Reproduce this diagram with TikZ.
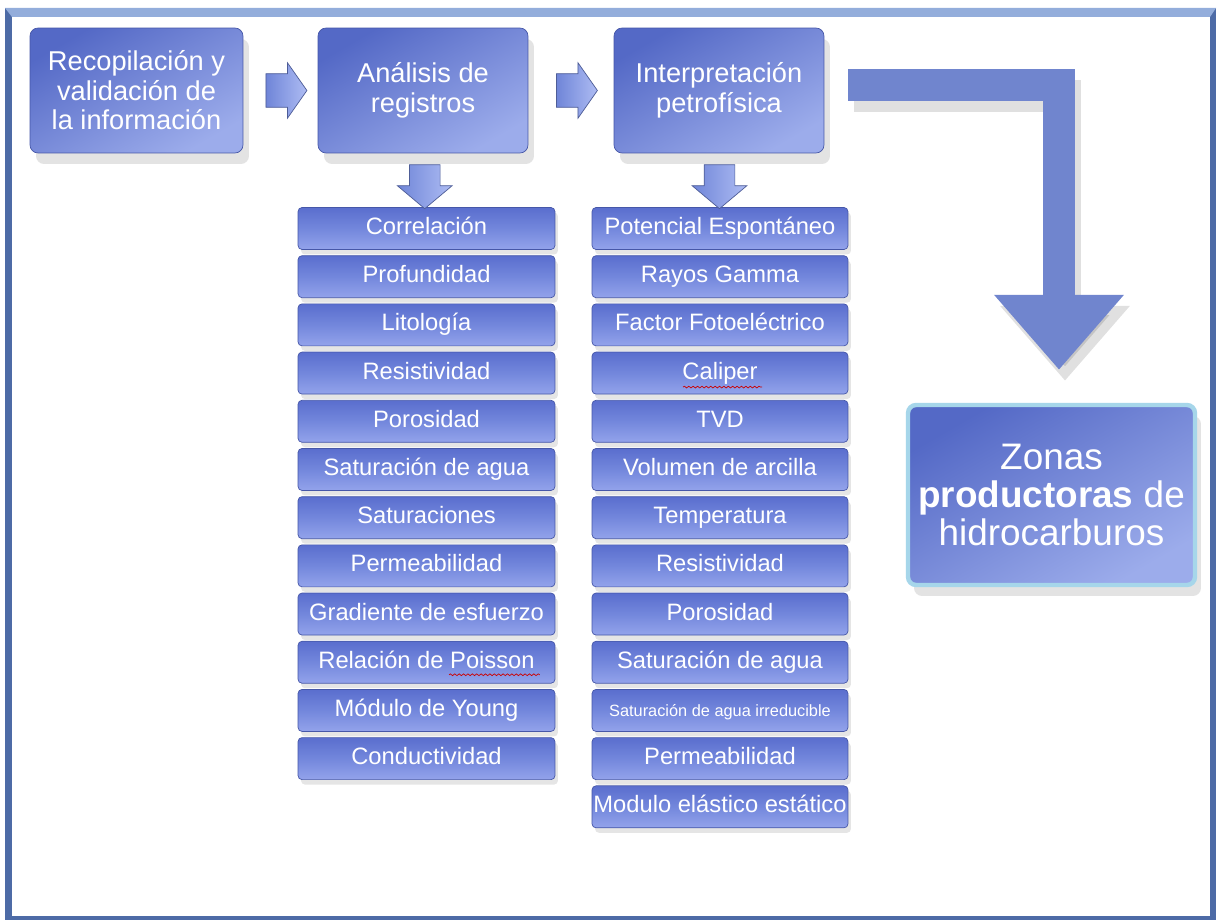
\documentclass[tikz,border=0pt]{standalone}
\usepackage{fontspec}
\setmainfont{Liberation Sans}
\usepackage{tikz}
\usetikzlibrary{positioning,shapes.arrows,shadows,arrows.meta,decorations.pathmorphing}

\definecolor{framedark}{HTML}{4D6BA6}
\definecolor{frametop}{HTML}{93ADDB}
\definecolor{boxdark}{HTML}{5469C6}
\definecolor{boxlight}{HTML}{9CACEB}
\definecolor{itemtop}{HTML}{5A6ECE}
\definecolor{itemmid}{HTML}{7387DC}
\definecolor{itembot}{HTML}{93A3EB}
\definecolor{itemline}{HTML}{4657A8}
\definecolor{arrowlight}{HTML}{AEBCF3}
\definecolor{arrowdark}{HTML}{6F85D8}
\definecolor{bendblue}{HTML}{7085CE}
\definecolor{glow}{HTML}{A6D6EA}

\begin{document}
\begin{tikzpicture}[  x=0.02cm,  y=-0.02cm,  font=\fontsize{13.5}{15}\selectfont,  stepbox/.style={draw=itemline, rounded corners=0.16cm, text=white, align=center, minimum width=4.2cm, minimum height=2.5cm, top color=boxdark, bottom color=boxlight, shading angle=30, font=\fontsize{15.5}{16.8}\selectfont, drop shadow={shadow xshift=0.12cm, shadow yshift=-0.22cm, opacity=0.22}},  item/.style={draw=itemline, rounded corners=0.08cm, text=white, minimum height=0.84cm, inner sep=0pt, text height=1.75ex, text depth=0.45ex, top color=itemtop, bottom color=itembot, middle color=itemmid, drop shadow={shadow xshift=0.06cm, shadow yshift=-0.1cm, opacity=0.2}},  litem/.style={item, minimum width=5.14cm},  ritem/.style={item, minimum width=5.12cm},  rarrow/.style={single arrow, single arrow head extend=0.22cm, single arrow tip angle=110, minimum height=0.82cm, inner xsep=0pt, inner ysep=0.33cm, left color=arrowdark, right color=arrowlight, draw=arrowdark!70!black, line width=0.4pt},  darrow/.style={rarrow, rotate=-90, minimum height=0.88cm, inner ysep=0.3cm, single arrow head extend=0.24cm, single arrow tip angle=100},  squiggle/.style={red!80!black, decorate, decoration={snake, amplitude=0.5pt, segment length=2.5pt}},  ]

  \fill[white] (0,0) rectangle (1220,922);
  \useasboundingbox (0,0) rectangle (1220,922);

  % frame
  \fill[framedark] (5,8) rectangle (1216,920);
  \fill[frametop] (5,8) -- (1216,8) -- (1210,17) -- (12,17) -- cycle;
  \fill[white] (12,17) rectangle (1210,916);

  \node[stepbox, minimum width=4.26cm] (recop) at (136.5,90.5) {Recopilación y\\validación de\\la información};
  \node[stepbox] (anal) at (423,90.5) {Análisis de\\registros};
  \node[stepbox] (interp) at (719,90.5) {Interpretación\\petrofísica};
  \node[stepbox, minimum width=5.74cm, minimum height=3.6cm, draw=glow, line width=2.5pt, font=\fontsize{21}{21.8}\selectfont] (zonas) at (1051.5,495) {Zonas\\\textbf{productoras} de\\hidrocarburos};

  \node[litem] (a1) at (426.5,228.5) {Correlación};
  \foreach \t [count=\i from 2, remember=\i as \j (initially 1)] in {Profundidad, Litología, Resistividad, Porosidad, Saturación de agua, Saturaciones, Permeabilidad, Gradiente de esfuerzo, Relación de Poisson, Módulo de Young, Conductividad}
    \node[litem, below=0.11cm of a\j] (a\i) {\t};

  \node[ritem] (b1) at (720,228.5) {Potencial Espontáneo};
  \foreach \t [count=\i from 2, remember=\i as \j (initially 1)] in {Rayos Gamma, Factor Fotoeléctrico, Caliper, TVD, Volumen de arcilla, Temperatura, Resistividad, Porosidad, Saturación de agua, {\fontsize{9.3}{10}\selectfont Saturación de agua irreducible}, Permeabilidad, Modulo elástico estático}
    \node[ritem, below=0.11cm of b\j] (b\i) {\t};

  \draw[squiggle] ([xshift=-0.74cm, yshift=-0.28cm]b4.center) -- ++(1.58cm,0);
  \draw[squiggle] ([xshift=0.45cm, yshift=-0.25cm]a10.center) -- ++(1.82cm,0);

  \path (recop.east) -- (anal.west) node[midway, rarrow] (ar1) {};
  \path (anal.east) -- (interp.west) node[midway, rarrow] (ar2) {};
  \path (anal.south) -- (a1.north) node[midway, darrow] (ad1) {};
  \path (interp.south) -- (b1.north) node[midway, darrow] (ad2) {};

  \draw[black, opacity=0.12, line width=0.64cm, transform canvas={xshift=0.12cm, yshift=-0.22cm}, -{Triangle[width=2.5cm, length=1.5cm]}, shorten <=0.48cm, shorten >=0.66cm] ([yshift=0.11cm]interp.east) -| ([xshift=0.15cm]zonas.north);
  \draw[bendblue, line width=0.64cm, -{Triangle[width=2.5cm, length=1.5cm]}, shorten <=0.48cm, shorten >=0.66cm] ([yshift=0.11cm]interp.east) -| ([xshift=0.15cm]zonas.north);
\end{tikzpicture}
\end{document}
